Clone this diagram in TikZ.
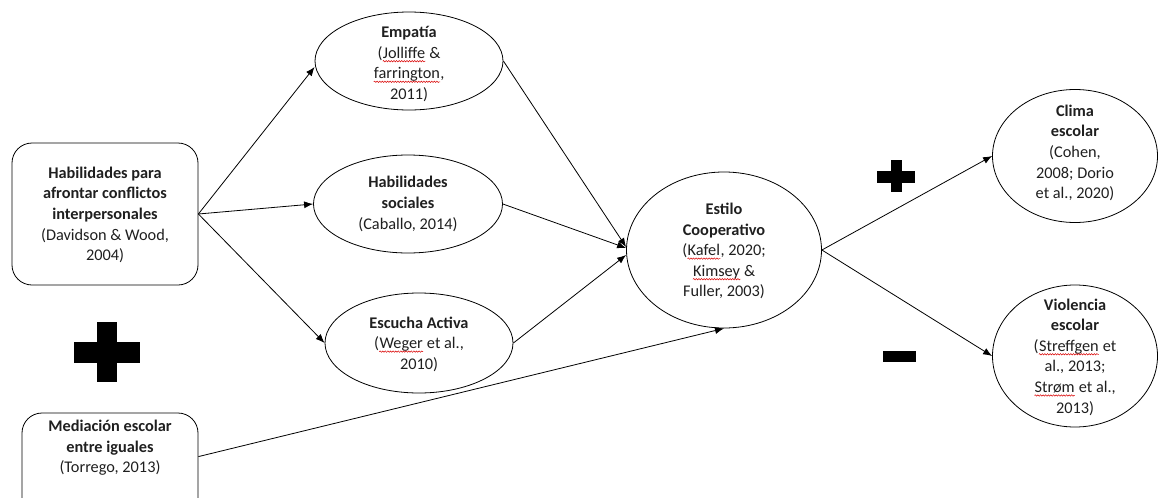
\documentclass[tikz,border=0pt]{standalone}
\usepackage{fontspec}
\setmainfont{Carlito}
\usetikzlibrary{shapes.geometric,arrows.meta,decorations.pathmorphing}
\newcommand\wavy[1]{\tikz[baseline=(w.base)]{\node[inner sep=0pt](w){#1};\draw[red!85!black, line width=0.5pt, decorate, decoration={snake,amplitude=0.7pt,segment length=2.6pt}] ([yshift=-3pt]w.base west) -- ([yshift=-3pt]w.base east);}}
\begin{document}
\begin{tikzpicture}[x=1pt,y=-1pt,
  every node/.style={font=\fontsize{16.3}{20.6}\selectfont, align=center, inner sep=0pt, text=black!88},
  ell/.style={draw, ellipse, line width=0.8pt},
  box/.style={draw, rounded corners=20pt, line width=0.8pt},
  conn/.style={line width=0.8pt, -{Latex[length=9pt,width=7pt]}}]
\useasboundingbox (0,0) rectangle (1160,498);
\clip (0,0) rectangle (1160,498);

% boxes
\node[box, minimum width=186pt, minimum height=142pt] (b1) at (105,214) {};
\node (b1t) at (105,215) {\textbf{Habilidades para}\\\textbf{afrontar conflictos}\\\textbf{interpersonales}\\(Davidson \& Wood,\\2004)};
\node[box, minimum width=176pt, minimum height=110pt] (b2) at (110,468) {};
\node (b2t) at (110,448) {\textbf{Mediación escolar}\\\textbf{entre iguales}\\(Torrego, 2013)};

% ellipses
\node[ell, minimum width=188pt, minimum height=98pt] (emp) at (409,61) {};
\node (empt) at (409,64) {\textbf{Empatía}\\(\wavy{Jolliffe} \&\\\wavy{farrington},\\2011)};
\node[ell, minimum width=189pt, minimum height=98pt] (hs) at (408,204) {};
\node (hst) at (408,204) {\textbf{Habilidades}\\\textbf{sociales}\\(Caballo, 2014)};
\node[ell, minimum width=188pt, minimum height=100pt] (esc) at (419,343) {};
\node (esct) at (419,344) {\textbf{Escucha Activa}\\(\wavy{Weger} et al.,\\2010)};
\node[ell, minimum width=195pt, minimum height=156pt] (est) at (724,250) {};
\node (estt) at (724,251) {\textbf{Estilo}\\\textbf{Cooperativo}\\(\wavy{Kafel}, 2020;\\\wavy{Kimsey} \&\\Fuller, 2003)};
\node[ell, minimum width=165pt, minimum height=133pt] (cli) at (1075,156) {};
\node (clit) at (1075,153) {\textbf{Clima}\\\textbf{escolar}\\(Cohen,\\2008; Dorio\\et al., 2020)};
\node[ell, minimum width=165pt, minimum height=142pt] (vio) at (1075,356) {};
\node (viot) at (1075,357) {\textbf{Violencia}\\\textbf{escolar}\\(\wavy{Streffgen} et\\al., 2013;\\\wavy{Strøm} et al.,\\2013)};

% connectors
\draw[conn] (b1.east) -- ([yshift=-6pt]emp.west);
\draw[conn] (b1.east) -- (hs.west);
\draw[conn] (b1.east) -- (esc.west);
\draw[conn] (emp.east) -- ([yshift=3pt]est.west);
\draw[conn] (hs.east) -- ([yshift=2pt]est.west);
\draw[conn] (esc.east) -- ([yshift=-5pt]est.west);
\draw[conn] ([yshift=-44pt]b2.north east) -- (est.south);
\draw[conn] (est.east) -- (cli.west);
\draw[conn] (est.east) -- (vio.west);

% signs
\fill (97,322) rectangle (117,382);
\fill (74,342) rectangle (140,363);
\fill (891,160) rectangle (902,192);
\fill (877,171) rectangle (915,183);
\fill (883,351) rectangle (916,362);
\end{tikzpicture}
\end{document}
